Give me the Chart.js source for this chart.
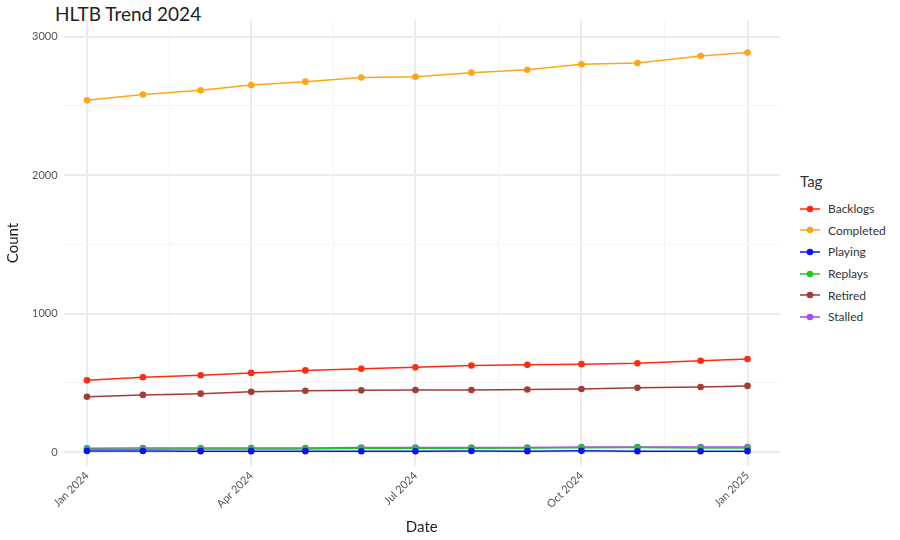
<!DOCTYPE html>
<html><head><meta charset="utf-8">
<script src="https://cdn.jsdelivr.net/npm/chart.js@4"></script>
<style>
body{margin:0;background:#fff;font-family:Lato,sans-serif;}
#wrap{position:relative;width:900px;height:540px;}
#title{position:absolute;left:55px;top:2px;font-size:19px;color:#222;}
#legend{position:absolute;left:800px;top:172px;font-size:12px;color:#333;}
#legend .t{font-size:15px;margin-bottom:8px;}
#legend .r{display:flex;align-items:center;height:21.6px;}
#legend svg{margin-right:8px;}
</style></head><body>
<div id="wrap">
<div id="title">HLTB Trend 2024</div>
<canvas id="c" width="790" height="540" style="position:absolute;left:0;top:0"></canvas>
<div id="legend"><div class="t">Tag</div></div>
</div>
<script>
// days since 2024-01-01
const dates = [0, 31, 63, 91, 121, 152, 182, 213, 244, 274, 305, 340, 366];
const backlogs = [518, 540, 555, 572, 590, 602, 612, 625, 630, 635, 642, 660, 672];
const completed = [2540, 2582, 2612, 2650, 2675, 2705, 2710, 2740, 2760, 2800, 2810, 2860, 2885];
const playing = [8, 8, 7, 7, 7, 6, 6, 8, 7, 9, 6, 6, 7];
const replays = [20, 21, 22, 22, 23, 27, 28, 28, 29, 32, 33, 30, 30];
const retired = [400, 413, 422, 435, 443, 446, 448, 448, 452, 456, 465, 470, 478];
const stalled = [28, 29, 29, 30, 30, 33, 33, 33, 33, 36, 37, 36, 36];
const majorTicks = [0, 91, 182, 274, 366];
const majorLabels = ['Jan 2024', 'Apr 2024', 'Jul 2024', 'Oct 2024', 'Jan 2025'];
const minorTicks = [45.5, 136.5, 228, 320];

const series = [
  ['Backlogs', backlogs, '#ff2a12'],
  ['Completed', completed, '#ffa51a'],
  ['Playing', playing, '#0a14f0'],
  ['Replays', replays, '#22c522'],
  ['Retired', retired, '#a23c36'],
  ['Stalled', stalled, '#a64df0']
];
const order = ['Playing','Replays','Stalled','Retired','Backlogs','Completed'];

const legend = document.getElementById('legend');
series.forEach(([name, , color]) => {
  const r = document.createElement('div');
  r.className = 'r';
  r.innerHTML = `<svg width="20" height="10"><line x1="0" y1="5" x2="20" y2="5" stroke="${color}" stroke-width="1.5"/><circle cx="10" cy="5" r="3.3" fill="${color}"/></svg>${name}`;
  legend.appendChild(r);
});

new Chart(document.getElementById('c'), {
  type: 'line',
  data: {
    datasets: series.map(([name, vals, color]) => ({
      label: name,
      data: vals.map((v, i) => ({x: dates[i], y: v})),
      borderColor: color, backgroundColor: color,
      borderWidth: 1.5, pointRadius: 3.3, pointBorderWidth: 0,
      order: order.indexOf(name)
    }))
  },
  options: {
    responsive: false, animation: false,
    layout: {padding: {top: 20, right: 10}},
    plugins: {legend: {display: false}, tooltip: {enabled: false}},
    scales: {
      x: {
        type: 'linear', min: -13, max: 384,
        afterBuildTicks: a => { a.ticks = majorTicks.concat(minorTicks).map(v => ({value: v})); },
        grid: {
          color: c => minorTicks.includes(c.tick.value) ? '#f5f5f5' : '#ececec',
          lineWidth: c => minorTicks.includes(c.tick.value) ? 1 : 2,
          drawTicks: false
        },
        border: {display: false},
        ticks: {
          maxRotation: 45, minRotation: 45, color: '#555', font: {family: 'Lato', size: 11},
          callback: v => { const i = majorTicks.indexOf(v); return i >= 0 ? majorLabels[i] : ''; }
        },
        title: {display: true, text: 'Date', color: '#222', font: {family: 'Lato', size: 15}}
      },
      y: {
        min: -100, max: 3120,
        afterBuildTicks: a => { a.ticks = [0, 500, 1000, 1500, 2000, 2500, 3000].map(v => ({value: v})); },
        grid: {
          color: c => c.tick.value % 1000 ? '#f5f5f5' : '#ececec',
          lineWidth: c => c.tick.value % 1000 ? 1 : 2,
          drawTicks: false
        },
        border: {display: false},
        ticks: {color: '#555', padding: 6, font: {family: 'Lato', size: 11},
          callback: v => v % 1000 ? '' : v},
        title: {display: true, text: 'Count', color: '#222', font: {family: 'Lato', size: 15}}
      }
    }
  }
});
</script>
</body></html>
